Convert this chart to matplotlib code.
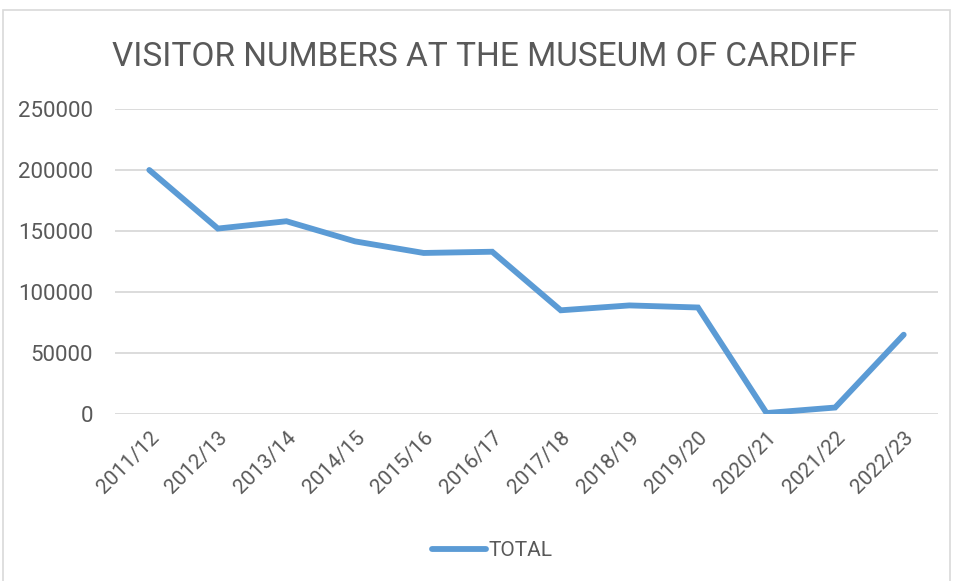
import matplotlib
matplotlib.use("Agg")
import matplotlib.pyplot as plt
from matplotlib.patches import Rectangle

# visitor numbers per financial year
years = ["2011/12", "2012/13", "2013/14", "2014/15", "2015/16", "2016/17",
         "2017/18", "2018/19", "2019/20", "2020/21", "2021/22", "2022/23"]
total = [200000, 152000, 158000, 141500, 132000, 133000,
         85000, 89000, 87300, 800, 5300, 65000]
y_ticks = [0, 50000, 100000, 150000, 200000, 250000]

plt.rcParams['font.family'] = ['Roboto', 'DejaVu Sans']
text_col = '#595959'
grid_col = '#D9D9D9'
line_col = '#5B9BD5'

fig = plt.figure(figsize=(9.54, 5.81), dpi=100)
ax = fig.add_axes([115 / 954, 167 / 581, 823 / 954, 305 / 581])

x = list(range(len(years)))
ax.plot(x, total, color=line_col, lw=4.2, solid_capstyle='round',
        solid_joinstyle='miter', label='TOTAL', zorder=3)

ax.set_xlim(-0.5, len(years) - 0.5)
ax.set_ylim(0, 250000)
ax.set_yticks(y_ticks)
ax.set_yticklabels([str(v) for v in y_ticks])
ax.set_xticks(x)
ax.set_xticklabels(years, rotation=45, ha='right', rotation_mode='anchor')

ax.grid(axis='y', color=grid_col, lw=1.3, zorder=0)
ax.set_axisbelow(True)
for s in ax.spines.values():
    s.set_visible(False)
ax.tick_params(axis='both', length=0, labelsize=15, labelcolor=text_col)
ax.tick_params(axis='y', labelsize=16, pad=16)
ax.tick_params(axis='x', pad=10)

fig.text(485 / 954, 1 - 57 / 581, "VISITOR NUMBERS AT THE MUSEUM OF CARDIFF",
         ha='center', va='center', fontsize=24, color=text_col)

fig.legend(loc='center', bbox_to_anchor=(492 / 954, 1 - 551 / 581), frameon=False,
           fontsize=15, labelcolor=text_col, handlelength=2.6, handletextpad=0.1)

# chart border
fig.patches.append(Rectangle((3.5 / 954, -0.05), 947 / 954, 1.05 - 10.5 / 581,
                             transform=fig.transFigure, fill=False,
                             edgecolor=grid_col, lw=1.2))

fig.savefig("out.png", dpi=100)
